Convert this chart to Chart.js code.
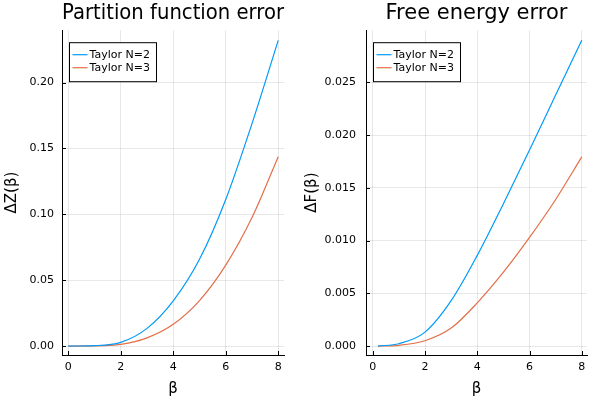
<!DOCTYPE html>
<html>
<head>
<meta charset="utf-8">
<script src="https://cdn.jsdelivr.net/npm/chart.js@4/dist/chart.umd.min.js"></script>
<style>
  html, body { margin: 0; padding: 0; background: #fff; }
  .row { display: flex; width: 600px; height: 400px; }
  canvas { display: block; }
</style>
</head>
<body>
<div class="row">
  <canvas id="zChart" width="300" height="400"></canvas>
  <canvas id="fChart" width="300" height="400"></canvas>
</div>
<script>
// values
const seriesNames = ['Taylor N=2', 'Taylor N=3'];

const betaZ = [0, 1, 2, 3, 4, 5, 6, 7, 8];
const zErrN2 = [0, 0.0003, 0.0028, 0.0134, 0.0343, 0.0658, 0.1112, 0.1688, 0.232];
const zErrN3 = [0, 0.0001, 0.0012, 0.0062, 0.0165, 0.0345, 0.0614, 0.0975, 0.1437];

const betaF = [0.2, 1, 2, 3, 4, 5, 6, 7, 8];
const fErrN2 = [0, 0.00022, 0.00132, 0.0043, 0.0086, 0.0135, 0.01858, 0.0238, 0.029];
const fErrN3 = [0, 0.00007, 0.0005, 0.0017, 0.0041, 0.007, 0.0103, 0.0139, 0.01794];

const xTicks = [0, 2, 4, 6, 8];
const zTicks = [0, 0.05, 0.10, 0.15, 0.20];
const fTicks = [0, 0.005, 0.010, 0.015, 0.020, 0.025];

const blue = 'rgb(0,154,250)';
const red = 'rgb(227,111,71)';
const font = 'DejaVu Sans';

// small inward tick marks on the left and bottom axes
const innerTicks = {
  id: 'innerTicks',
  afterDatasetsDraw(chart) {
    const { ctx, chartArea, scales } = chart;
    ctx.save();
    ctx.strokeStyle = '#000';
    ctx.lineWidth = 1;
    scales.x.ticks.forEach(t => {
      const px = Math.round(scales.x.getPixelForValue(t.value)) + 0.5;
      ctx.beginPath();
      ctx.moveTo(px, chartArea.bottom);
      ctx.lineTo(px, chartArea.bottom - 4);
      ctx.stroke();
    });
    scales.y.ticks.forEach(t => {
      const py = Math.round(scales.y.getPixelForValue(t.value)) + 0.5;
      ctx.beginPath();
      ctx.moveTo(chartArea.left, py);
      ctx.lineTo(chartArea.left + 4, py);
      ctx.stroke();
    });
    ctx.restore();
  }
};

// framed legend in the top-left of the plot area
const boxLegend = {
  id: 'boxLegend',
  afterDraw(chart) {
    const { ctx, chartArea } = chart;
    const x = chartArea.left + 7.5, y = chartArea.top + 12.5;
    const w = 87, h = 39;
    ctx.save();
    ctx.fillStyle = '#fff';
    ctx.fillRect(x, y, w, h);
    ctx.strokeStyle = '#000';
    ctx.lineWidth = 1;
    ctx.strokeRect(x, y, w, h);
    ctx.font = '11px "' + font + '"';
    ctx.textBaseline = 'middle';
    chart.data.datasets.forEach((ds, i) => {
      const cy = y + 12 + i * 13;
      ctx.strokeStyle = ds.borderColor;
      ctx.lineWidth = 1.2;
      ctx.beginPath();
      ctx.moveTo(x + 3, cy);
      ctx.lineTo(x + 18, cy);
      ctx.stroke();
      ctx.fillStyle = '#000';
      ctx.fillText(ds.label, x + 20, cy);
    });
    ctx.restore();
  }
};

function points(xs, ys) {
  return xs.map((v, i) => ({ x: v, y: ys[i] }));
}

function makeChart(id, opts) {
  const config = {
    type: 'line',
    data: {
      datasets: [{
        label: seriesNames[0],
        data: points(opts.xs, opts.a),
        borderColor: blue,
        borderWidth: 1.2,
        pointRadius: 0,
        cubicInterpolationMode: 'monotone'
      }, {
        label: seriesNames[1],
        data: points(opts.xs, opts.b),
        borderColor: red,
        borderWidth: 1.2,
        pointRadius: 0,
        cubicInterpolationMode: 'monotone'
      }]
    },
    options: {
      responsive: false,
      animation: false,
      layout: { padding: { left: 0, right: opts.padRight, top: 0, bottom: 0 } },
      plugins: {
        legend: { display: false },
        tooltip: { enabled: false },
        title: {
          display: true,
          fullSize: false,
          text: opts.title,
          color: '#000',
          font: { family: font, size: 21, weight: 'normal' },
          padding: { top: 1, bottom: 4 }
        }
      },
      scales: {
        x: {
          type: 'linear',
          min: opts.xMin,
          max: opts.xMax,
          afterBuildTicks: s => { s.ticks = xTicks.map(v => ({ value: v })); },
          afterFit: s => { s.height = 45; },
          grid: { color: 'rgba(0,0,0,0.09)', drawTicks: false },
          border: { color: '#000', width: 1 },
          ticks: { color: '#000', font: { family: font, size: 11 }, padding: 6 },
          title: {
            display: true,
            text: 'β',
            color: '#000',
            font: { family: font, size: 15 },
            padding: { top: 0, bottom: 2 }
          }
        },
        y: {
          type: 'linear',
          min: opts.yMin,
          max: opts.yMax,
          afterBuildTicks: s => { s.ticks = opts.yTicks.map(v => ({ value: v })); },
          afterFit: s => { s.width = opts.yWidth; },
          grid: { color: 'rgba(0,0,0,0.09)', drawTicks: false },
          border: { color: '#000', width: 1 },
          ticks: {
            color: '#000',
            font: { family: font, size: 11 },
            padding: opts.tickPad,
            callback: v => v.toFixed(opts.digits)
          },
          title: {
            display: true,
            text: opts.yLabel,
            color: '#000',
            font: { family: font, size: 15 },
            padding: { top: 3, bottom: 0 }
          }
        }
      }
    },
    plugins: [innerTicks, boxLegend]
  };
  return new Chart(document.getElementById(id), config);
}

makeChart('zChart', {
  title: 'Partition function error',
  yLabel: 'ΔZ(β)',
  xs: betaZ, a: zErrN2, b: zErrN3,
  xMin: -0.24, xMax: 8.22,
  yMin: -0.0068, yMax: 0.2397,
  yTicks: zTicks, digits: 2,
  yWidth: 62, padRight: 16, tickPad: 8
});

makeChart('fChart', {
  title: 'Free energy error',
  yLabel: 'ΔF(β)',
  xs: betaF, a: fErrN2, b: fErrN3,
  xMin: -0.26, xMax: 8.2,
  yMin: -0.00085, yMax: 0.02995,
  yTicks: fTicks, digits: 3,
  yWidth: 66, padRight: 13, tickPad: 10
});
</script>
</body>
</html>
